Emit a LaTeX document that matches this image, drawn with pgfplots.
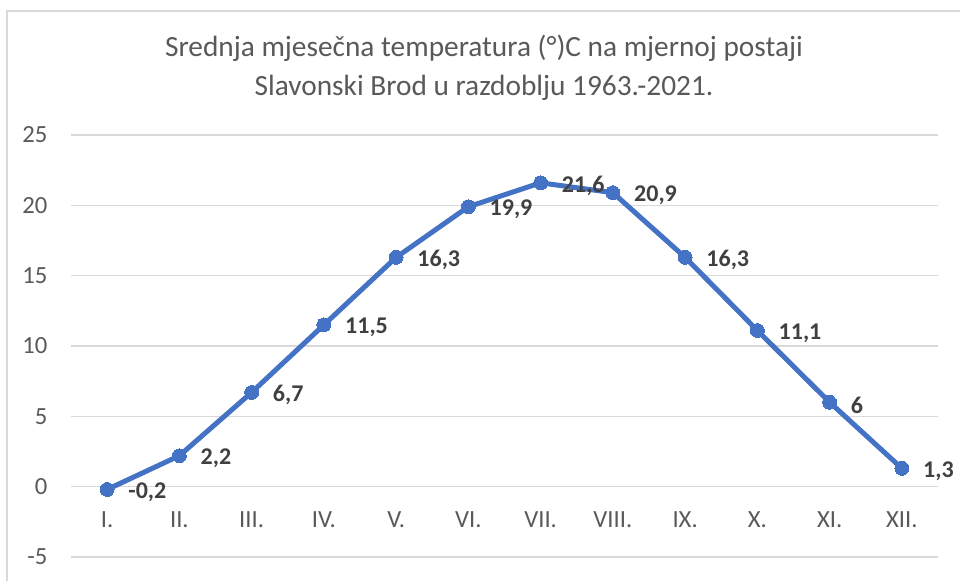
\documentclass[border=0pt]{standalone}
\usepackage{fontspec}
\setmainfont{Carlito}
\usepackage{pgfplots}
\pgfplotsset{compat=1.18}
\usepackage{pgfplotstable}
\definecolor{lineblue}{HTML}{4472C4}
\definecolor{gridgray}{HTML}{D9D9D9}
\definecolor{textgray}{HTML}{595959}
\definecolor{labelgray}{HTML}{404040}
\pgfplotstableread{
x y lab
0 -0.2 -0,2
1 2.2 2,2
2 6.7 6,7
3 11.5 11,5
4 16.3 16,3
5 19.9 19,9
6 21.6 21,6
7 20.9 20,9
8 16.3 16,3
9 11.1 11,1
10 6 6
11 1.3 1,3
}\datatable
\begin{document}
\begin{tikzpicture}
\path[use as bounding box] (0,0) rectangle (720pt,435.75pt);
\draw[gridgray, line width=1.5pt] (5.25pt,0) -- (5.25pt,427.5pt) -- (720pt,427.5pt);
\begin{axis}[
  at={(53.25pt,18pt)}, anchor=south west,
  scale only axis, width=650.25pt, height=316.5pt,
  xmin=-0.5, xmax=11.5, ymin=-5, ymax=25,
  axis lines=left, axis line style={draw=none},
  xtick={0,...,11},
  xticklabels={I.,II.,III.,IV.,V.,VI.,VII.,VIII.,IX.,X.,XI.,XII.},
  ytick={-5,0,5,10,15,20,25},
  ymajorgrids, major grid style={gridgray, line width=1pt},
  major tick length=0pt,
  /pgf/number format/assume math mode=true,
  tick label style={font=\fontsize{18.5}{20}\selectfont, text=textgray},
  xticklabel style={anchor=center, inner sep=0pt, yshift=27.75pt},
  yticklabel style={anchor=east, inner sep=0pt, xshift=-17.5pt},
  clip=false,
]
\addplot[lineblue, line width=3.75pt, mark=*, mark size=5.2pt,
  mark options={fill=lineblue, draw=lineblue, line width=0pt},
  point meta=explicit symbolic,
  nodes near coords,
  every node near coord/.append style={anchor=west, inner sep=0pt, xshift=16pt, yshift=-2pt,
    font=\fontsize{18}{20}\selectfont\bfseries, text=labelgray}]
  table[x=x, y=y, meta=lab] {\datatable};
\end{axis}
\node[align=center, text=textgray, font=\fontsize{22}{29.25}\selectfont] at (363pt,385pt)
  {Srednja mjesečna temperatura (°)C na mjernoj postaji\\Slavonski Brod u razdoblju 1963.-2021.};
\end{tikzpicture}
\end{document}
